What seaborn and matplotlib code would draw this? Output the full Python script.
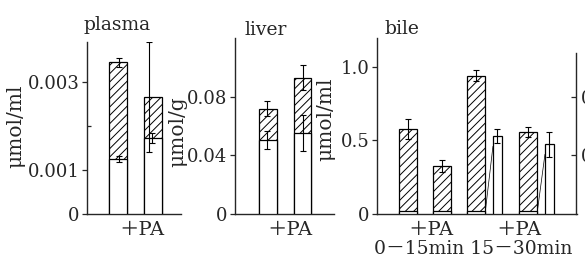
import numpy as np
import pandas as pd
import seaborn as sns
import matplotlib.pyplot as plt

sns.set_style('ticks')
plt.rcParams['font.family'] = ['DejaVu Serif', 'Noto Sans CJK JP']
plt.rcParams['font.size'] = 13
plt.rcParams['hatch.linewidth'] = 0.7

# plasma, umol/ml: total bar (hatched top) and white lower part
plasma_total = [0.00345, 0.00266]
plasma_total_err = [0.0001, 0.00125]
plasma_base = [0.00125, 0.00173]
plasma_base_err = [0.00007, 0.00011]

# liver, umol/g
liver_total = [0.0718, 0.093]
liver_total_err = [0.005, 0.0085]
liver_base = [0.0506, 0.0553]
liver_base_err = [0.006, 0.0125]

# bile, umol/ml
bile_hatched = [0.578, 0.327, 0.94, 0.558]
bile_hatched_err = [0.068, 0.04, 0.037, 0.036]
bile_base = [0.02, 0.02, 0.02, 0.02]
bile_white = [0.53, 0.476]
bile_white_err = [0.045, 0.085]

# cut-off panel on the right edge
right_ticks = [0.04, 0.08]
right_labels = ['0.04', '0.08']

pa_label = '＋PA'
period_label = '0－15min 15－30min'
titles = ['plasma', 'liver', 'bile']
ylabels = ['μmol/ml', 'μmol/g', 'μmol/ml']


def bars(ax, pos, vals, width, hatch=None, z=2):
    df = pd.DataFrame({'x': pos, 'y': vals})
    w = width / np.diff(sorted(pos)).min() if len(pos) > 1 else width
    sns.barplot(data=df, x='x', y='y', native_scale=True, width=w, color='white',
                saturation=1, edgecolor='black', linewidth=0.9, hatch=hatch,
                errorbar=None, ax=ax, zorder=z)


def errs(ax, pos, vals, err):
    ax.errorbar(pos, vals, yerr=err, fmt='none', ecolor='black', elinewidth=0.8,
                capsize=2.2, capthick=0.8, zorder=6)


fig = plt.figure(figsize=(5.85, 2.64), dpi=100)
W, H = 585, 264
bot = (H - 214) / H
ax1 = fig.add_axes([87 / W, bot, 94 / W, 172 / H])
ax2 = fig.add_axes([235 / W, bot, 99 / W, 176 / H])
ax3 = fig.add_axes([377 / W, bot, 200 / W, 176 / H])
ax4 = fig.add_axes([576 / W, bot, 0.05, 161 / H])

# plasma
pos = [0, 1]
bars(ax1, pos, plasma_total, 0.514, hatch='////', z=2)
bars(ax1, pos, plasma_base, 0.514, z=3)
errs(ax1, [0.03, 0.88], plasma_total, plasma_total_err)
errs(ax1, [0.03, 0.98], plasma_base, plasma_base_err)
ax1.set_xlim(-0.886, 1.8)
ax1.set_ylim(0, 0.00391)
ax1.set_yticks([0, 0.001, 0.003], ['0', '0.001', '0.003'])
ax1.set_yticks([0.002], minor=True)
ax1.set_xticks([0.686], [pa_label])

# liver
bars(ax2, pos, liver_total, 0.507, hatch='////', z=2)
bars(ax2, pos, liver_base, 0.507, z=3)
errs(ax2, [-0.03, 1.01], liver_total, liver_total_err)
errs(ax2, [-0.03, 1.0], liver_base, liver_base_err)
ax2.set_xlim(-0.957, 1.913)
ax2.set_ylim(0, 0.12)
ax2.set_yticks([0, 0.04, 0.08], ['0', '0.04', '0.08'])
ax2.set_xticks([0.64], [pa_label])

# bile
hpos = [0, 1, 2.01, 3.54]
npos = [2.63, 4.16]
hw, nw = 0.53, 0.265
bars(ax3, hpos, bile_hatched, hw, hatch='////', z=2)
bars(ax3, hpos, bile_base, hw, z=3)
bars(ax3, npos, bile_white, nw, z=3)
errs(ax3, hpos, bile_hatched, bile_hatched_err)
errs(ax3, npos, bile_white, bile_white_err)
for i, j in [(2, 0), (3, 1)]:
    ax3.plot([hpos[i] + hw / 2, npos[j] - nw / 2],
             [bile_base[i], bile_white[j] - 0.07],
             color='black', lw=0.5, zorder=4)
ax3.set_xlim(-0.912, 4.97)
ax3.set_ylim(0, 1.197)
ax3.set_yticks([0, 0.5, 1.0], ['0', '0.5', '1.0'])
ax3.set_xticks([0.68, 3.26], [pa_label, pa_label])
ax3.set_xlabel(period_label, fontsize=13.5)
ax3.xaxis.label.set_horizontalalignment('left')
ax3.xaxis.label.set_verticalalignment('top')
ax3.xaxis.set_label_coords(-0.015, -0.145)

for ax, t, tx, ty, yl, lx, ly in [
        (ax1, titles[0], 0.32, 1.099, ylabels[0], -0.66, 0.51),
        (ax2, titles[1], 0.31, 1.045, ylabels[1], -0.48, 0.47),
        (ax3, titles[2], 0.125, 1.05, ylabels[2], -0.21, 0.54)]:
    sns.despine(ax=ax)
    ax.text(tx, ty, t, transform=ax.transAxes, ha='center', va='center', fontsize=13.5)
    ax.set_ylabel(yl, fontsize=14.5)
    ax.yaxis.set_label_coords(lx, ly)
    if ax is not ax3:
        ax.set_xlabel('')
    for s in ['left', 'bottom']:
        ax.spines[s].set_linewidth(1.0)
    ax.tick_params(axis='y', which='major', direction='out', length=3.5, width=0.9, pad=2)
    ax.tick_params(axis='y', which='minor', direction='in', length=3, width=0.9)
    ax.tick_params(axis='x', length=0, pad=5, labelsize=14)

# right-edge panel, mostly cut off
ax4.set_ylim(0, 0.110)
ax4.set_xticks([])
ax4.set_yticks(right_ticks, right_labels)
for s in ['top', 'right', 'bottom']:
    ax4.spines[s].set_visible(False)
ax4.spines['left'].set_linewidth(1.0)
ax4.tick_params(axis='y', direction='out', length=3.5, width=0.9, pad=-7)
for lab in ax4.get_yticklabels():
    lab.set_horizontalalignment('left')
ax4.patch.set_alpha(0)

fig.savefig('out.png', dpi=100)
